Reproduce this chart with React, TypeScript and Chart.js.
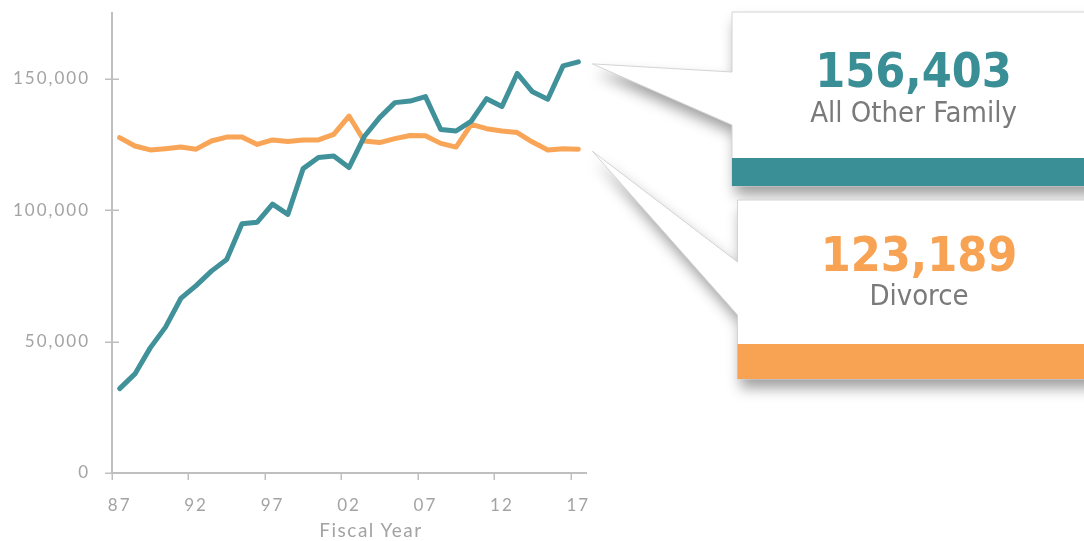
import React, { useEffect, useRef } from 'react';
import { Chart, registerables } from 'chart.js';

Chart.register(...registerables);

// ---- data ----
const years = ['87', '88', '89', '90', '91', '92', '93', '94', '95', '96', '97', '98', '99', '00', '01', '02', '03', '04', '05', '06', '07', '08', '09', '10', '11', '12', '13', '14', '15', '16', '17'];
const shownYears = ['87', '92', '97', '02', '07', '12', '17'];
const allOtherFamily = [32100, 37700, 47600, 55500, 66400, 71300, 76800, 81200, 94800, 95400, 102300, 98400, 115800, 120000, 120600, 116200, 128000, 135200, 140900, 141500, 143200, 130700, 130100, 133900, 142400, 139400, 152000, 145000, 142200, 154900, 156403];
const divorce = [127600, 124400, 122900, 123400, 124000, 123200, 126300, 127800, 127800, 125000, 126700, 126100, 126700, 126700, 128800, 135800, 126300, 125700, 127200, 128400, 128300, 125400, 124000, 132600, 131000, 130100, 129500, 125900, 122900, 123400, 123189];
const yTickValues = [0, 50000, 100000, 150000];
const seriesNames = ['All Other Family', 'Divorce'];
const xAxisTitle = 'Fiscal Year';

const TEAL = '#3a8e95';
const TEAL_LINE = '#40919a';
const ORANGE = '#f8a253';
const ORANGE_LINE = '#f9a557';
const AXIS = '#bfbfbf';
const TICK_TEXT = '#a3a3a3';

const W = 1084;
const H = 541;

// callout box layout (pixels)
const boxes = [
  { left: 732, top: 12, bottom: 186, barTop: 158, notchTop: 72, notchBottom: 125, color: TEAL },
  { left: 737.5, top: 200, bottom: 379, barTop: 344, notchTop: 262, notchBottom: 315, color: ORANGE },
];

const fmt = (v: number) => v.toLocaleString('en-US');

export default function App() {
  const canvasRef = useRef<HTMLCanvasElement | null>(null);

  useEffect(() => {
    const canvas = canvasRef.current;
    if (!canvas) return;

    const axisTicksPlugin = {
      id: 'axisTicks',
      beforeDraw(chart: any) {
        (chart.ctx as any).letterSpacing = '2px';
      },
      afterDraw(chart: any) {
        const { ctx, chartArea } = chart;
        const xs = chart.scales.x;
        const ys = chart.scales.y;
        ctx.save();
        (ctx as any).letterSpacing = '0px';
        ctx.strokeStyle = AXIS;
        ctx.lineWidth = 1.5;
        ctx.beginPath();
        yTickValues.forEach((v) => {
          const py = Math.round(ys.getPixelForValue(v)) + 0.25;
          ctx.moveTo(chartArea.left - 7, py);
          ctx.lineTo(chartArea.left + 7, py);
        });
        const cw = xs.getPixelForValue(1) - xs.getPixelForValue(0);
        years.forEach((y, i) => {
          if (!shownYears.includes(y)) return;
          const px = Math.round(xs.getPixelForValue(i) - cw / 2) + 0.25;
          ctx.moveTo(px, chartArea.bottom);
          ctx.lineTo(px, chartArea.bottom + 7);
        });
        ctx.stroke();

        // callouts
        const lasts = [allOtherFamily[allOtherFamily.length - 1], divorce[divorce.length - 1]];
        const right = W + 20;
        boxes.forEach((b, k) => {
          const tipX = xs.getPixelForValue(years.length - 1) + 14;
          const tipY = ys.getPixelForValue(lasts[k]) + 2;
          ctx.save();
          ctx.beginPath();
          ctx.moveTo(b.left, b.top);
          ctx.lineTo(right, b.top);
          ctx.lineTo(right, b.bottom);
          ctx.lineTo(b.left, b.bottom);
          ctx.lineTo(b.left, b.notchBottom);
          ctx.lineTo(tipX, tipY);
          ctx.lineTo(b.left, b.notchTop);
          ctx.closePath();
          ctx.shadowColor = 'rgba(0,0,0,0.38)';
          ctx.shadowBlur = 14;
          ctx.shadowOffsetX = 3;
          ctx.shadowOffsetY = 9;
          ctx.fillStyle = '#ffffff';
          ctx.fill();
          ctx.shadowColor = 'transparent';
          ctx.strokeStyle = '#d4d4d4';
          ctx.lineWidth = 1;
          ctx.stroke();
          ctx.fillStyle = b.color;
          ctx.fillRect(b.left, b.barTop, right - b.left, b.bottom - b.barTop);
          ctx.restore();
        });
        ctx.restore();
      },
    };

    const tickFont = { family: 'Lato', size: 17 };

    const chart = new Chart(canvas, {
      type: 'line',
      data: {
        labels: years,
        datasets: [
          {
            label: seriesNames[0],
            data: allOtherFamily,
            borderColor: TEAL_LINE,
            borderWidth: 5,
            pointRadius: 0,
            tension: 0,
            borderCapStyle: 'round',
            borderJoinStyle: 'round',
            fill: false,
          },
          {
            label: seriesNames[1],
            data: divorce,
            borderColor: ORANGE_LINE,
            borderWidth: 5,
            pointRadius: 0,
            tension: 0,
            borderCapStyle: 'round',
            borderJoinStyle: 'round',
            fill: false,
          },
        ],
      },
      options: {
        animation: false,
        responsive: false,
        maintainAspectRatio: false,
        layout: { padding: { left: 0, right: W - 586, top: 13, bottom: 0 } },
        plugins: { legend: { display: false }, tooltip: { enabled: false }, title: { display: false } },
        scales: {
          x: {
            type: 'category',
            offset: true,
            grid: { display: false },
            border: { display: true, color: AXIS, width: 2 },
            ticks: {
              autoSkip: false,
              maxRotation: 0,
              minRotation: 0,
              color: TICK_TEXT,
              font: tickFont,
              padding: 14,
              callback: (_v: any, i: number) => (shownYears.includes(years[i]) ? years[i] : ''),
            },
            afterFit: (s: any) => {
              s.height = H - 473;
              s.paddingLeft = 0;
              s.paddingRight = 0;
            },
          },
          y: {
            type: 'linear',
            min: 0,
            max: 175000,
            grid: { display: false, drawTicks: false },
            border: { display: true, color: AXIS, width: 2 },
            ticks: {
              color: TICK_TEXT,
              font: tickFont,
              padding: 22,
              callback: (v: any) => fmt(Number(v)),
            },
            afterBuildTicks: (s: any) => {
              s.ticks = yTickValues.map((v) => ({ value: v }));
            },
            afterFit: (s: any) => {
              s.width = 112;
              s.paddingTop = 0;
              s.paddingBottom = 0;
            },
          },
        },
      },
      plugins: [axisTicksPlugin],
    } as any);

    return () => chart.destroy();
  }, []);

  const lastValues = [allOtherFamily[allOtherFamily.length - 1], divorce[divorce.length - 1]];
  const numberBaselines = [87, 271];
  const labelBaselines = [122, 305];
  const numColors = [TEAL, ORANGE];

  return (
    <div style={{ position: 'fixed', left: 0, top: 0, width: W, height: H, background: '#fff', overflow: 'hidden' }}>
      <canvas ref={canvasRef} width={W} height={H} style={{ position: 'absolute', left: 0, top: 0, width: W, height: H }} />
      <svg width={W} height={H} style={{ position: 'absolute', left: 0, top: 0, pointerEvents: 'none' }}>
        {boxes.map((b, k) => (
          <g key={k}>
            <text
              x={b.left + 181.5}
              y={numberBaselines[k]}
              textAnchor="middle"
              fontFamily="'DejaVu Sans Condensed', 'DejaVu Sans'"
              fontWeight="bold"
              fontSize={48}
              fill={numColors[k]}
            >
              {fmt(lastValues[k])}
            </text>
            <text
              x={b.left + 181.5}
              y={labelBaselines[k]}
              textAnchor="middle"
              fontFamily="'DejaVu Sans Condensed', 'DejaVu Sans'"
              fontSize={29}
              fill="#7a7a7a"
            >
              {seriesNames[k]}
            </text>
          </g>
        ))}
        <text x={371} y={537} textAnchor="middle" fontFamily="Lato" fontSize={19} letterSpacing={1.5} fill={TICK_TEXT}>
          {xAxisTitle}
        </text>
      </svg>
    </div>
  );
}
